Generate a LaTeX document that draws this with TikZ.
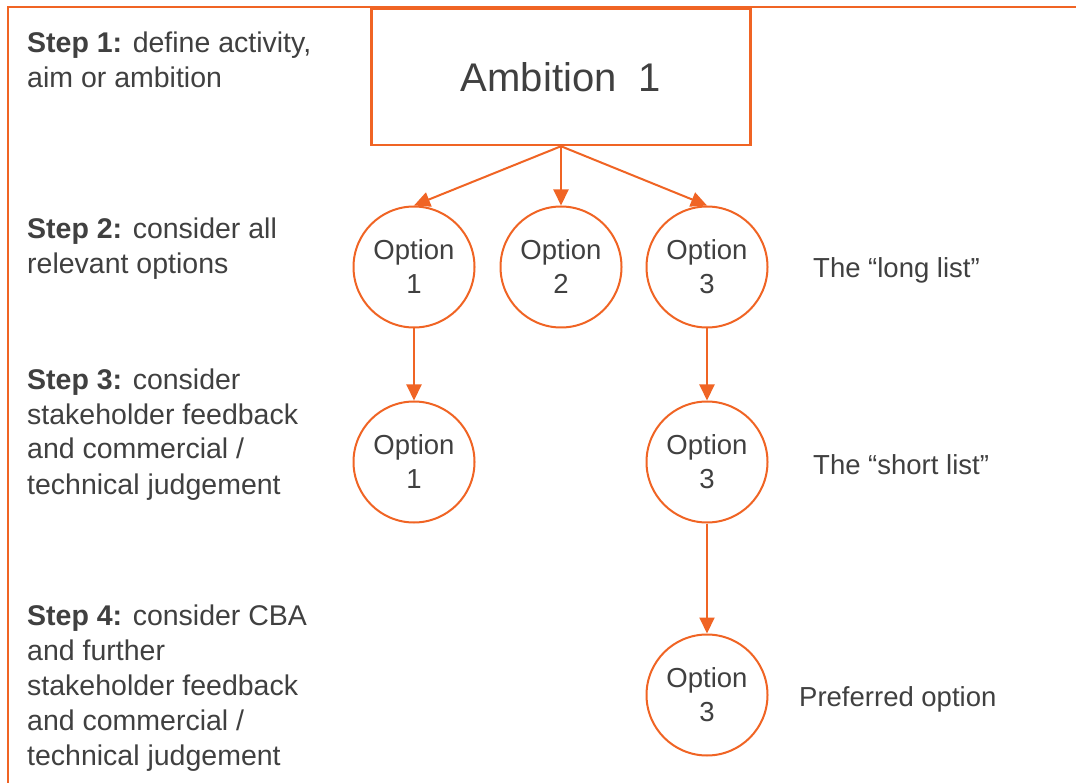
\documentclass[tikz,border=0pt]{standalone}
\usepackage{fontspec}
\setmainfont{Liberation Sans}
\usetikzlibrary{arrows.meta}
\definecolor{orng}{RGB}{240,100,36}
\definecolor{txt}{RGB}{64,64,64}
\newcommand{\steptext}[1]{\begin{tabular}[t]{@{}l@{}}#1\end{tabular}}
\begin{document}
\begin{tikzpicture}[x=1pt,y=-1pt,
  steplbl/.style={anchor=base west,inner sep=0pt,text=txt,font=\fontsize{28.5}{35}\selectfont},
  sidelbl/.style={anchor=base west,inner sep=0pt,text=txt,font=\fontsize{27.5}{34}\selectfont},
  optnode/.style={circle,draw=orng,line width=2pt,minimum size=121pt,inner sep=0pt,align=center,text=txt,font=\fontsize{27.5}{34}\selectfont},
  ambbox/.style={draw=orng,line width=2.5pt,minimum width=379pt,minimum height=136pt,inner sep=0pt,text=txt,font=\fontsize{40}{48}\selectfont},
  conn/.style={draw=orng,line width=2pt,-{Triangle[length=16pt,width=15pt]}}
]
\useasboundingbox (0,0) rectangle (1076,783);
\fill[white] (0,0) rectangle (1076,783);
% border
\coordinate (bl) at (8,783);
\coordinate (tl) at (8,7);
\coordinate (tr) at (1076,7);
\draw[orng,line width=2pt] (bl) -- (tl) -- (tr);
% ambition
\node[ambbox] (amb) at (561,77) {Ambition\ \ 1};
% options
\node[optnode] (o1) at (414,267) {Option\\1};
\node[optnode] (o2) at (561,267) {Option\\2};
\node[optnode] (o3) at (707,267) {Option\\3};
\node[optnode] (s1) at (414,462) {Option\\1};
\node[optnode] (s3) at (707,462) {Option\\3};
\node[optnode] (p3) at (707,695) {Option\\3};
% connectors
\draw[conn] (amb.south) -- (o1.north);
\draw[conn] (amb.south) -- (o2.north);
\draw[conn] (amb.south) -- (o3.north);
\draw[conn] (o1.south) -- (s1.north);
\draw[conn] (o3.south) -- (s3.north);
\draw[conn] (s3.south) -- (p3.north);
% step texts
\node[steplbl] (st1) at (27,53) {\steptext{\textbf{Step 1:} define activity,\\aim or ambition}};
\node[steplbl] (st2) at (27,239) {\steptext{\textbf{Step 2:} consider all\\relevant options}};
\node[steplbl] (st3) at (27,389) {\steptext{\textbf{Step 3:} consider\\stakeholder feedback\\and commercial /\\technical judgement}};
\node[steplbl] (st4) at (27,625) {\steptext{\textbf{Step 4:} consider CBA\\and further\\stakeholder feedback\\and commercial /\\technical judgement}};
% side labels
\node[sidelbl] (ll) at (813,278) {The “long list”};
\node[sidelbl] (sl) at (813,474) {The “short list”};
\node[sidelbl] (po) at (799,706) {Preferred option};
\end{tikzpicture}
\end{document}
